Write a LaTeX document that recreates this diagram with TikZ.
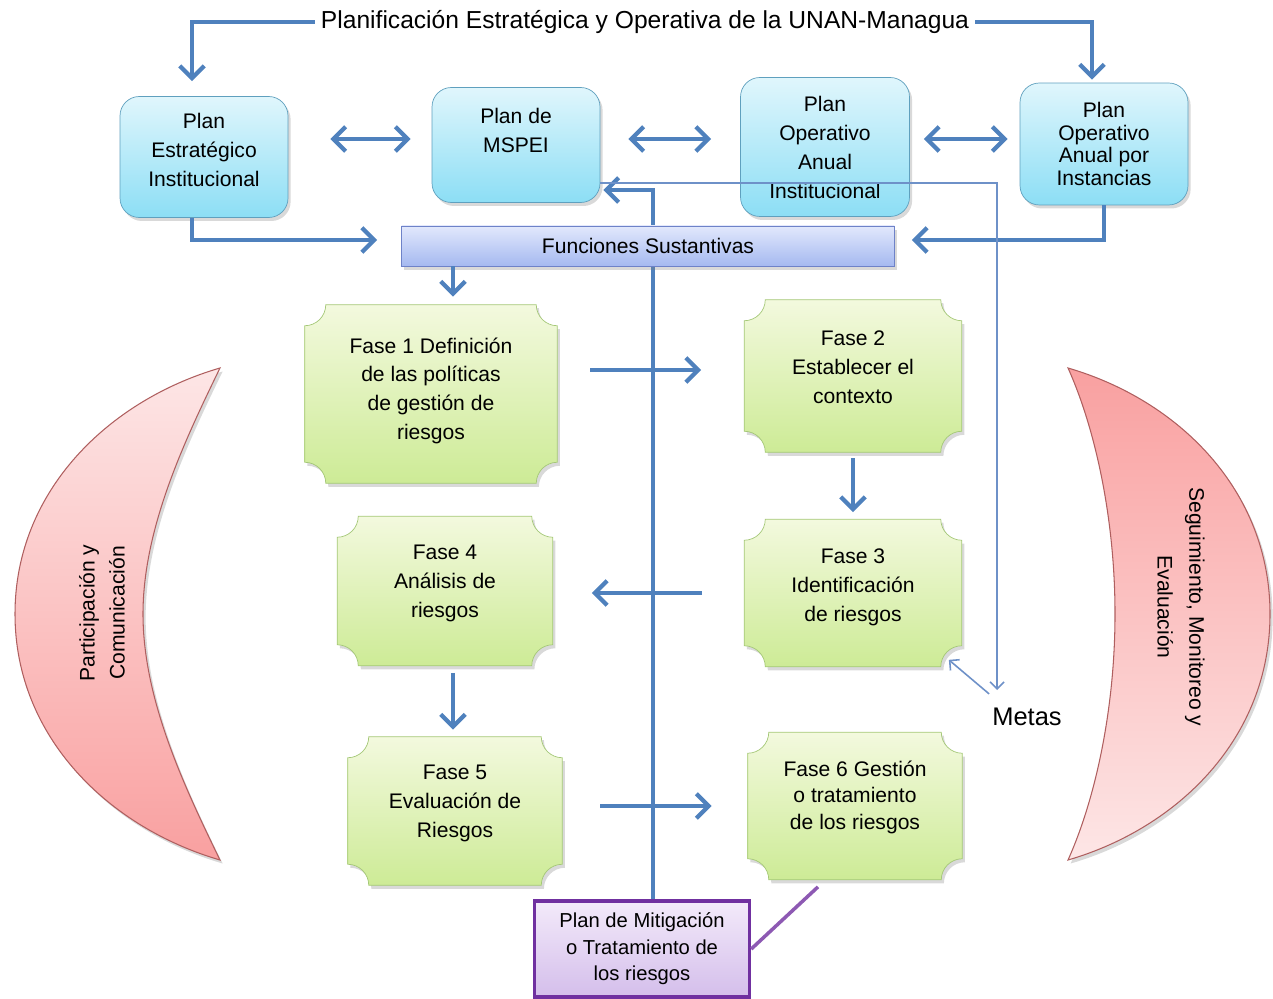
\documentclass[tikz,border=0pt]{standalone}
\usepackage{fontspec}
\setmainfont{Liberation Sans}
\usetikzlibrary{arrows.meta, calc, backgrounds, shadows}

\definecolor{azulflecha}{RGB}{79,129,189}
\definecolor{azullinea}{RGB}{110,145,200}
\definecolor{plantop}{RGB}{224,246,252}
\definecolor{planbot}{RGB}{140,222,245}
\definecolor{planborde}{RGB}{95,160,190}
\definecolor{funtop}{RGB}{226,232,252}
\definecolor{funbot}{RGB}{165,185,240}
\definecolor{funborde}{RGB}{110,130,200}
\definecolor{fasetop}{RGB}{243,249,222}
\definecolor{fasebot}{RGB}{205,235,150}
\definecolor{faseborde}{RGB}{165,200,120}
\definecolor{mittop}{RGB}{243,234,250}
\definecolor{mitbot}{RGB}{212,190,235}
\definecolor{mitborde}{RGB}{112,48,160}
\definecolor{lunaclara}{RGB}{253,230,230}
\definecolor{lunaoscura}{RGB}{249,160,160}
\definecolor{lunaborde}{RGB}{175,95,95}

\newcommand{\tam}[2]{\fontsize{#1}{#2}\selectfont}
\newlength{\rp}\setlength{\rp}{12pt}
% placa con esquinas hundidas alrededor de un nodo
\newcommand{\placa}[1]{%
  \path[placa] let \p1=(#1.north west), \p2=(#1.south east) in
    (\x1+\rp,\y1) -- (\x2-\rp,\y1) arc[start angle=180, end angle=270, radius=\rp]
    -- (\x2,\y2+\rp) arc[start angle=90, end angle=180, radius=\rp]
    -- (\x1+\rp,\y2) arc[start angle=0, end angle=90, radius=\rp]
    -- (\x1,\y1-\rp) arc[start angle=270, end angle=360, radius=\rp] -- cycle;}

\tikzset{
  sombra/.style={drop shadow={shadow xshift=1.5pt, shadow yshift=-2pt, opacity=0.3}},
  plan/.style={draw=planborde, rounded corners=11pt, top color=plantop, bottom color=planbot,
    align=center, inner sep=0pt, minimum width=3.36cm, font=\tam{12}{16.5}, sombra},
  funciones/.style={draw=funborde, top color=funtop, bottom color=funbot,
    minimum width=9.86cm, minimum height=0.8cm, font=\tam{12}{14}, sombra},
  fase/.style={align=center, inner sep=0pt, text depth=10pt, font=\tam{12}{16.5}},
  placa/.style={draw=faseborde, top color=fasetop, bottom color=fasebot, sombra},
  mitig/.style={draw=mitborde, line width=2pt, top color=mittop, bottom color=mitbot,
    align=center, minimum width=4.3cm, minimum height=1.92cm, font=\tam{11.5}{15}},
  luna/.style={draw=lunaborde, line width=0.6pt, sombra},
  flecha/.style={draw=azulflecha, line width=2.4pt, -{Straight Barb[length=7pt, width=14pt]}},
  dflecha/.style={draw=azulflecha, line width=2.4pt,
    {Straight Barb[length=7pt, width=14pt]}-{Straight Barb[length=7pt, width=14pt]}},
  lineafina/.style={draw=azullinea, line width=0.9pt, -{Straight Barb[length=4pt, width=8pt]}},
  mitlinea/.style={draw=mitborde!80, line width=2pt}
}

\begin{document}
\begin{tikzpicture}[x=0.02cm, y=-0.02cm]
  \useasboundingbox (0,0) rectangle (1273,999);
  % Draw the two crescents at the sides.
  \draw[luna, top color=lunaclara, bottom color=lunaoscura]
    (220,368) .. controls (110,400) and (15,490) .. (15,614)
    .. controls (15,738) and (110,828) .. (220,860)
    .. controls (185,788) and (143,700) .. (143,614)
    .. controls (143,528) and (185,440) .. (220,368) -- cycle;
  \draw[luna, top color=lunaoscura, bottom color=lunaclara]
    (1068,368) .. controls (1178,400) and (1270,490) .. (1270,614)
    .. controls (1270,738) and (1178,828) .. (1068,860)
    .. controls (1095,800) and (1115,710) .. (1115,614)
    .. controls (1115,518) and (1095,428) .. (1068,368) -- cycle;
  \node[rotate=90, align=center, font=\tam{12}{17}] (partic) at (102,613) {Participación y\\Comunicación};
  \node[rotate=-90, align=center, font=\tam{12}{18}] (seguim) at (1181,607) {Seguimiento, Monitoreo y\\Evaluación};

  % Draw the plans and the band of functions.
  \node[font=\tam{14}{16}] (titulo) at (645,22) {Planificación Estratégica y Operativa de la UNAN-Managua};
  \node[plan, minimum height=2.42cm, text depth=8pt] (pei) at (204,157) {Plan\\Estratégico\\Institucional};
  \node[plan, minimum height=2.3cm] (mspei) at (516,145) {Plan de\\MSPEI\\~};
  \node[plan, minimum width=3.38cm, minimum height=2.78cm] (poai) at (825,147) {Plan\\Operativo\\Anual\\Institucional};
  \node[plan, minimum height=2.44cm, font=\tam{12}{13}] (poainst) at (1104,144) {Plan\\Operativo\\Anual por\\Instancias};
  \node[funciones] (funciones) at (648,246) {Funciones Sustantivas};

  % Draw the six phases.
  \node[fase, minimum width=5.04cm, minimum height=3.56cm, text depth=6pt] (fase1) at (431,394) {Fase 1 Definición\\de las políticas\\de gestión de\\riesgos};
  \node[fase, minimum width=4.34cm, minimum height=3.04cm] (fase2) at (853,376) {Fase 2\\Establecer el\\contexto};
  \node[fase, minimum width=4.34cm, minimum height=2.94cm, text depth=9.4pt] (fase3) at (853,593) {Fase 3\\Identificación\\de riesgos};
  \node[fase, minimum width=4.3cm, minimum height=2.98cm, text depth=10.6pt] (fase4) at (445,591) {Fase 4\\Análisis de\\riesgos};
  \node[fase, minimum width=4.28cm, minimum height=2.96cm, text depth=11.6pt] (fase5) at (455,811) {Fase 5\\Evaluación de\\Riesgos};
  \node[fase, minimum width=4.28cm, minimum height=2.94cm, text depth=12.6pt, font=\tam{12}{15}] (fase6) at (855,806) {Fase 6 Gestión\\o tratamiento\\de los riesgos};
  \node[mitig] (mitig) at (642,949) {Plan de Mitigación\\o Tratamiento de\\los riesgos};
  \node[font=\tam{14.5}{17}] (metas) at (1027,717) {Metas};

  \begin{scope}[on background layer]
    \foreach \f in {fase1,fase2,fase3,fase4,fase5,fase6}
      \placa{\f};
    % The mitigation plan goes back up to the MSPEI.
    \draw[flecha, shorten >=0.06cm] ([xshift=0.22cm]mitig.north) |- ([yshift=-0.9cm]mspei.east);
  \end{scope}

  % Arrows between the plans.
  \draw[flecha, shorten >=0.3cm] (titulo.west) -| ([xshift=-0.24cm]pei.north);
  \draw[flecha, shorten >=0.06cm] (titulo.east) -| ([xshift=-0.24cm]poainst.north);
  \draw[dflecha, shorten <=0.84cm, shorten >=0.42cm] ([yshift=0.36cm]pei.east) -- ([yshift=0.36cm]pei.east -| mspei.west);
  \draw[dflecha, shorten <=0.56cm, shorten >=0.58cm] ([yshift=0.12cm]mspei.east) -- ([yshift=0.12cm]mspei.east -| poai.west);
  \draw[dflecha, shorten <=0.28cm, shorten >=0.24cm] ([yshift=0.16cm]poai.east) -- ([yshift=0.16cm]poai.east -| poainst.west);
  \draw[flecha, shorten >=0.48cm] ([xshift=-0.24cm]pei.south) |- ([yshift=0.12cm]funciones.west);
  \draw[flecha, shorten >=0.34cm] (poainst.south) |- ([yshift=0.12cm]funciones.east);
  \draw[flecha, shorten >=0.16cm] ([xshift=0.44cm]fase1.north |- funciones.south) -- ([xshift=0.44cm]fase1.north);

  % Arrows between the phases.
  \draw[flecha, shorten <=0.66cm, shorten >=0.86cm] ([yshift=0.12cm]fase1.east |- fase2.west) -- ([yshift=0.12cm]fase2.west);
  \draw[flecha, shorten <=0.12cm, shorten >=0.14cm] (fase2.south) -- (fase3.north);
  \draw[flecha, shorten <=0.84cm, shorten >=0.78cm] (fase3.west) -- (fase3.west -| fase4.east);
  \draw[flecha, shorten <=0.14cm, shorten >=0.14cm] ([xshift=0.16cm]fase4.south) -- ([xshift=0.16cm]fase4.south |- fase5.north);
  \draw[flecha, shorten <=0.76cm, shorten >=0.72cm] ([yshift=0.1cm]fase5.east) -- ([yshift=0.1cm]fase5.east -| fase6.west);
  \draw[mitlinea] (mitig.east) -- ($(fase6.south)+(-37,7)$);

  % Thin line to the goals.
  \coordinate (metasflecha) at (997,690);
  \draw[lineafina] ([yshift=-0.76cm]mspei.east) -| (metasflecha);
  \draw[lineafina] ($(metas.north west)+(3,-8)$) -- ($(fase3.south east)+(-13,-7)$);
\end{tikzpicture}
\end{document}
